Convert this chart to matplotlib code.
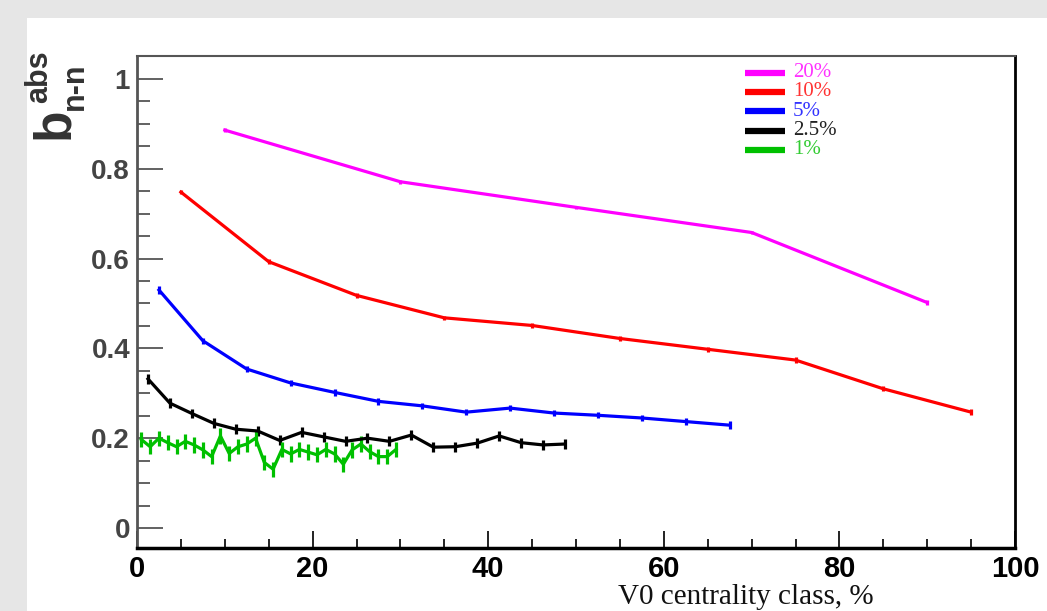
import matplotlib
matplotlib.use("Agg")
import matplotlib.pyplot as plt
from matplotlib.patches import Rectangle
from matplotlib.ticker import MultipleLocator

# ---- data ----
x20 = [10, 30, 50, 70, 90]
y20 = [0.886, 0.771, 0.714, 0.658, 0.502]
e20 = [0.004, 0.004, 0.004, 0.004, 0.005]

x10 = [5, 15, 25, 35, 45, 55, 65, 75, 85, 95]
y10 = [0.748, 0.593, 0.518, 0.468, 0.451, 0.422, 0.398, 0.374, 0.310, 0.258]
e10 = [0.005, 0.005, 0.005, 0.005, 0.005, 0.005, 0.006, 0.006, 0.006, 0.007]

x5 = [2.5, 7.5, 12.5, 17.5, 22.5, 27.5, 32.5, 37.5, 42.5, 47.5, 52.5, 57.5, 62.5, 67.5]
y5 = [0.530, 0.417, 0.354, 0.323, 0.302, 0.282, 0.272, 0.258, 0.267, 0.256,
      0.251, 0.245, 0.237, 0.229]
e5 = [0.008, 0.007, 0.007, 0.007, 0.007, 0.007, 0.007, 0.007, 0.007, 0.007,
      0.007, 0.007, 0.008, 0.009]

x25 = [1.25, 3.75, 6.25, 8.75, 11.25, 13.75, 16.25, 18.75, 21.25, 23.75,
       26.25, 28.75, 31.25, 33.75, 36.25, 38.75, 41.25, 43.75, 46.25, 48.75]
y25 = [0.332, 0.278, 0.255, 0.233, 0.220, 0.216, 0.195, 0.213, 0.203, 0.193,
       0.200, 0.193, 0.207, 0.180, 0.181, 0.189, 0.205, 0.190, 0.185, 0.187]
e25 = [0.011] * 20

x1 = [0.5, 1.5, 2.5, 3.5, 4.5, 5.5, 6.5, 7.5, 8.5, 9.5,
      10.5, 11.5, 12.5, 13.5, 14.5, 15.5, 16.5, 17.5, 18.5, 19.5,
      20.5, 21.5, 22.5, 23.5, 24.5, 25.5, 26.5, 27.5, 28.5, 29.5]
y1 = [0.197, 0.181, 0.200, 0.190, 0.181, 0.193, 0.185, 0.174, 0.159, 0.205,
      0.166, 0.181, 0.187, 0.200, 0.146, 0.131, 0.175, 0.165, 0.175, 0.169,
      0.163, 0.175, 0.165, 0.142, 0.174, 0.187, 0.170, 0.159, 0.159, 0.175]
e1 = [0.017] * 30

labels = ["20%", "10%", "5%", "2.5%", "1%"]
colors = ["#ff00ff", "#ff0000", "#0000ff", "#000000", "#00c000"]
text_colors = ["#ff33ff", "#ff3333", "#3333ff", "#222222", "#33cc33"]

xticks = [0, 20, 40, 60, 80, 100]
yticks = [0, 0.2, 0.4, 0.6, 0.8, 1]
ytick_labels = ["0", "0.2", "0.4", "0.6", "0.8", "1"]

# ---- figure ----
W, H = 1047, 611
PX = 0.72  # points per pixel at dpi 100
fig = plt.figure(figsize=(W / 100, H / 100), dpi=100)
fig.patch.set_facecolor("#e6e6e6")
fig.add_artist(Rectangle((27 / W, 0), 1 - 27 / W, 1 - 18 / H,
                         transform=fig.transFigure, facecolor="white",
                         edgecolor="none", zorder=0))

ax = fig.add_axes([137 / W, 63 / H, (1015 - 137) / W, (548 - 56) / H])
ax.set_facecolor("white")
ax.set_xlim(0, 100)
ax.set_ylim(-0.0445, 1.051)

series = [(x20, y20, e20), (x10, y10, e10), (x5, y5, e5), (x25, y25, e25), (x1, y1, e1)]
for (xs, ys, es), c in zip(series, colors):
    ax.errorbar(xs, ys, yerr=es, color=c, lw=2.3, elinewidth=2.3, capsize=0,
                zorder=3)

# ticks
ax.set_xticks(xticks)
ax.set_xticklabels([str(v) for v in xticks])
ax.xaxis.set_minor_locator(MultipleLocator(5))
ax.set_yticks(yticks)
ax.set_yticklabels(ytick_labels)
ax.yaxis.set_minor_locator(MultipleLocator(0.05))

ax.tick_params(axis="y", which="major", direction="in", length=26 * PX, width=1.3,
               color="#555555", left=True, right=False, pad=5)
ax.tick_params(axis="y", which="minor", direction="in", length=13 * PX, width=1.3,
               color="#555555", left=True, right=False)
ax.tick_params(axis="x", which="major", direction="in", length=17 * PX, width=1.3,
               color="#111111", bottom=True, top=False, pad=5)
ax.tick_params(axis="x", which="minor", direction="in", length=9 * PX, width=1.3,
               color="#111111", bottom=True, top=False)

for lab in ax.get_yticklabels():
    lab.set_family(["Liberation Sans", "DejaVu Sans"])
    lab.set_fontweight("bold")
    lab.set_fontsize(20)
    lab.set_color("#444444")
for lab in ax.get_xticklabels():
    lab.set_family(["Liberation Sans", "DejaVu Sans"])
    lab.set_fontweight("bold")
    lab.set_fontsize(21)
    lab.set_color("black")

ax.spines["left"].set_color("#555555")
ax.spines["left"].set_linewidth(2)
ax.spines["top"].set_color("#555555")
ax.spines["top"].set_linewidth(1.5)
ax.spines["right"].set_color("black")
ax.spines["right"].set_linewidth(2)
ax.spines["bottom"].set_color("black")
ax.spines["bottom"].set_linewidth(2.5)

# x label (serif)
fig.text(874 / W, 1 - 604 / H, "V0 centrality class, %", ha="right",
         va="baseline", fontsize=21, family=["Liberation Serif", "DejaVu Serif"],
         color="#111111")

# y label: b^{abs}_{n-n}, rotated
fig.text(55 / W, 1 - 123 / H, "b", rotation=90, ha="center", va="center",
         fontsize=37, fontweight="bold", family=["Liberation Sans", "DejaVu Sans"],
         color="#333333")
fig.text(39 / W, 1 - 77 / H, "abs", rotation=90, ha="center", va="center",
         fontsize=22, fontweight="bold", family=["Liberation Sans", "DejaVu Sans"],
         color="#333333")
fig.text(75 / W, 1 - 86 / H, "n-n", rotation=90, ha="center", va="center",
         fontsize=22, fontweight="bold", family=["Liberation Sans", "DejaVu Sans"],
         color="#333333")

# legend (manual, ROOT style)
leg_y = [72.5, 91.5, 111, 130.5, 149.5]
for ly, lab, c, tc in zip(leg_y, labels, colors, text_colors):
    fig.add_artist(plt.Line2D([745 / W, 785 / W], [1 - ly / H, 1 - ly / H],
                              transform=fig.transFigure, color=c, lw=4.5,
                              solid_capstyle="butt"))
    fig.text(793 / W, 1 - ly / H, lab, ha="left", va="center", fontsize=15,
             family=["Liberation Serif", "DejaVu Serif"], color=tc)

fig.savefig("out.png", dpi=100, facecolor=fig.get_facecolor())
